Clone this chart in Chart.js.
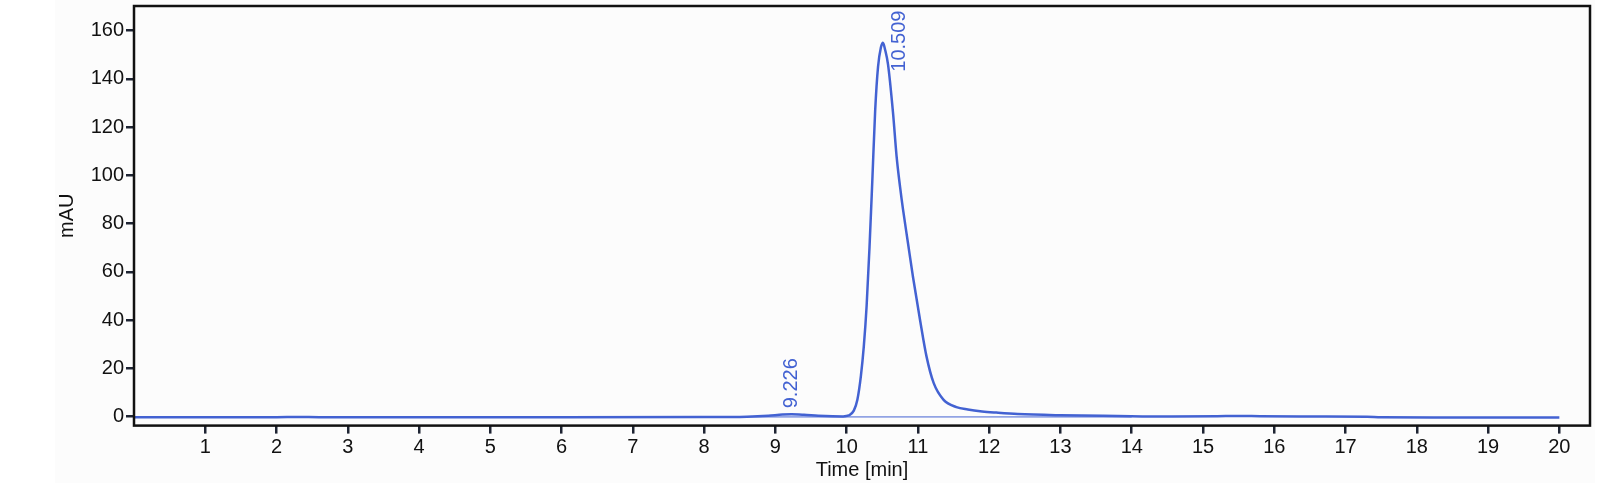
<!DOCTYPE html>
<html>
<head>
<meta charset="utf-8">
<title>Chromatogram</title>
<script src="https://cdn.jsdelivr.net/npm/chart.js@4/dist/chart.umd.min.js"></script>
<style>
  html, body { margin: 0; padding: 0; background: #ffffff; }
  #wrap { position: absolute; left: 55px; top: 0; width: 1540px; height: 483px; background: #fcfcfc; }
</style>
</head>
<body>
<div id="wrap"><canvas id="myChart" width="1540" height="483"></canvas></div>
<script>
// Signal trace (time in min, absorbance in mAU)
var times = [0, 2.0, 2.3, 2.6, 5.0, 8.0, 8.6, 8.9, 9.1, 9.226, 9.4, 9.6, 9.8, 9.95,
             10.03, 10.1, 10.15, 10.2, 10.24, 10.28, 10.32, 10.36, 10.4, 10.44, 10.48,
             10.509, 10.54, 10.58, 10.65, 10.7, 10.75, 10.79, 10.86, 10.93, 11.03, 11.12,
             11.22, 11.36, 11.54, 11.7, 11.9, 12.1, 12.4, 13.0, 13.8, 14.5, 15.2, 15.5,
             15.8, 16.5, 17.3, 17.5, 18.6, 20.0];
var signal = [-0.2, -0.2, -0.1, -0.2, -0.2, -0.15, 0.0, 0.4, 0.9, 1.0, 0.8, 0.4, 0.15, 0.1,
              0.5, 2.5, 7, 17, 29, 46, 70, 98, 127, 145, 153,
              155, 152, 146, 126, 108, 95, 86, 72, 58, 40, 25,
              14, 7, 4.0, 3.0, 2.2, 1.7, 1.1, 0.6, 0.3, 0.1, 0.2, 0.3,
              0.2, 0.1, 0.0, -0.2, -0.3, -0.3];

// Integration baseline under the peaks
var baseTimes = [8.6, 10.0, 14.0];
var baseValues = [-0.1, -0.1, -0.1];

// Peak annotations
var peakTimes = [9.226, 10.509];
var peakHeights = [1.0, 155];
var peakLabels = ['9.226', '10.509'];

// Axis ticks
var xTicks = [1, 2, 3, 4, 5, 6, 7, 8, 9, 10, 11, 12, 13, 14, 15, 16, 17, 18, 19, 20];
var yTicks = [0, 20, 40, 60, 80, 100, 120, 140, 160];

var blue = '#4362d2';
var font = '"Liberation Sans", Arial, sans-serif';

// where each peak label sits relative to its peak top (px)
var labelOffsets = [[0, -6], [17, 29]];

var boxPlugin = {
    id: 'box',
    afterDatasetsDraw: function (chart) {
        var ctx = chart.ctx, a = chart.chartArea;
        ctx.save();
        ctx.strokeStyle = '#111111';
        ctx.lineWidth = 2.5;
        ctx.strokeRect(a.left, a.top, a.right - a.left, a.bottom - a.top);

        // rotated retention time labels
        ctx.fillStyle = blue;
        ctx.font = '20px ' + font;
        ctx.textAlign = 'left';
        ctx.textBaseline = 'middle';
        peakLabels.forEach(function (txt, i) {
            var x = chart.scales.x.getPixelForValue(peakTimes[i]) + labelOffsets[i][0];
            var y = chart.scales.y.getPixelForValue(peakHeights[i]) + labelOffsets[i][1];
            ctx.save();
            ctx.translate(x, y);
            ctx.rotate(-Math.PI / 2);
            ctx.fillText(txt, 0, 0);
            ctx.restore();
        });
        ctx.restore();
    }
};

var trace = times.map(function (t, i) { return {x: t, y: signal[i]}; });
var base = baseTimes.map(function (t, i) { return {x: t, y: baseValues[i]}; });

function noPad(scale) {
    scale.paddingTop = 0;
    scale.paddingBottom = 0;
    scale.paddingLeft = 0;
    scale.paddingRight = 0;
}

var ctx = document.getElementById('myChart').getContext('2d');
var myChart = new Chart(ctx, {
    type: 'line',
    data: {
        datasets: [{
            data: trace,
            borderColor: blue,
            borderWidth: 2.5,
            pointRadius: 0,
            fill: false,
            cubicInterpolationMode: 'monotone'
        }, {
            data: base,
            borderColor: blue,
            borderWidth: 1,
            pointRadius: 0,
            fill: false
        }]
    },
    options: {
        responsive: false,
        animation: false,
        layout: { padding: { top: 6, right: 5, bottom: 0, left: 0 } },
        plugins: { legend: { display: false }, tooltip: { enabled: false } },
        scales: {
            x: {
                type: 'linear',
                min: 0,
                max: 20.43,
                afterBuildTicks: function (scale) {
                    scale.ticks = xTicks.map(function (v) { return {value: v}; });
                },
                afterFit: function (scale) { scale.height = 57.4; noPad(scale); },
                grid: { drawOnChartArea: false, drawTicks: true, tickLength: 8, color: '#1e2433', lineWidth: 2.5 },
                border: { display: false },
                ticks: { color: '#111111', padding: 2, maxRotation: 0, autoSkip: false,
                         font: { family: font, size: 20 } },
                title: { display: true, text: 'Time [min]', color: '#111111',
                         font: { family: font, size: 20, lineHeight: 1.2 },
                         padding: { top: 0, bottom: 1 } }
            },
            y: {
                min: -3.69,
                max: 170.2,
                afterBuildTicks: function (scale) {
                    scale.ticks = yTicks.map(function (v) { return {value: v}; });
                },
                afterFit: function (scale) { scale.width = 79; noPad(scale); },
                grid: { drawOnChartArea: false, drawTicks: true, tickLength: 8, color: '#1e2433', lineWidth: 2.5 },
                border: { display: false },
                ticks: { color: '#111111', padding: 2, font: { family: font, size: 20 } },
                title: { display: true, text: 'mAU', color: '#111111',
                         font: { family: font, size: 20, lineHeight: 1.2 },
                         padding: { top: 0, bottom: 0 } }
            }
        }
    },
    plugins: [boxPlugin]
});
</script>
</body>
</html>
